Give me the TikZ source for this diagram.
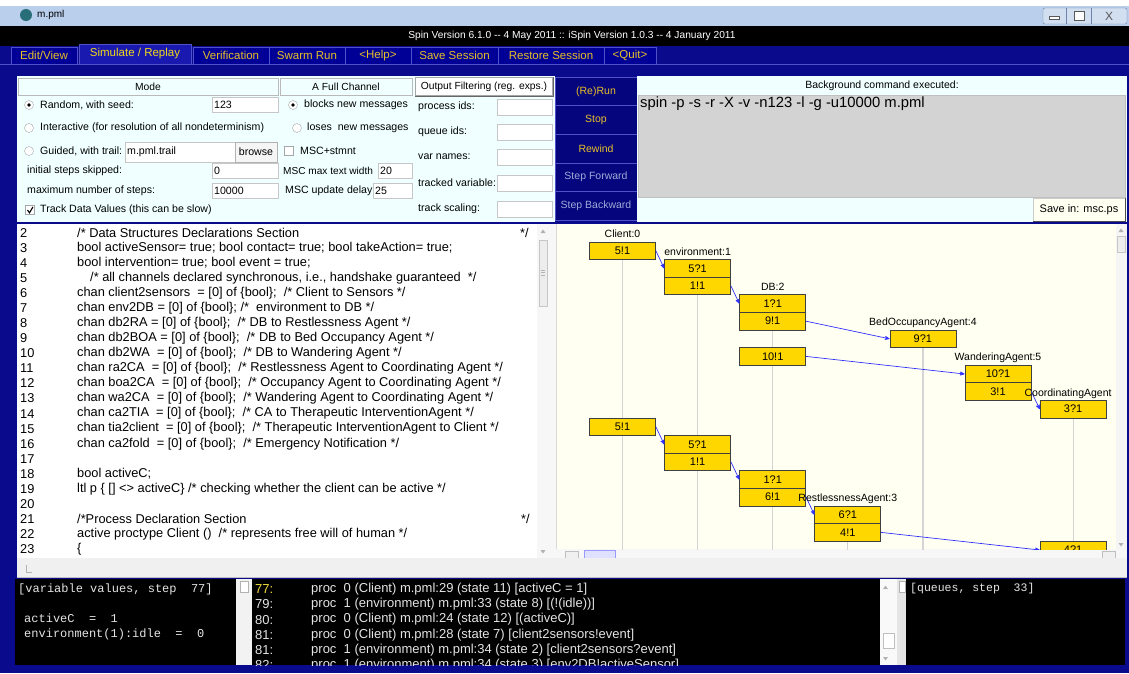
\documentclass[tikz,border=0pt]{standalone}
\usepackage{fontspec}
\setmainfont{Liberation Sans}
\setmonofont{Liberation Mono}
\usetikzlibrary{arrows,positioning}

\definecolor{winblue}{RGB}{10,10,140}
\definecolor{tabblue}{RGB}{0,0,150}
\definecolor{tabsel}{RGB}{25,25,175}
\definecolor{tabline}{RGB}{80,80,200}
\definecolor{gold}{RGB}{232,192,40}
\definecolor{paleblue}{RGB}{160,170,215}
\definecolor{ctlblue}{RGB}{5,5,125}
\definecolor{azure}{RGB}{240,255,255}
\definecolor{cmdgray}{RGB}{211,211,211}
\definecolor{ivory}{RGB}{255,255,242}
\definecolor{mscbox}{RGB}{255,215,0}
\definecolor{life}{RGB}{212,212,212}
\definecolor{arrowblue}{RGB}{50,50,255}
\definecolor{termgray}{RGB}{228,228,228}
\definecolor{stepyellow}{RGB}{240,220,60}
\definecolor{titleA}{RGB}{185,207,235}
\definecolor{titleB}{RGB}{120,158,218}
\definecolor{titleC}{RGB}{110,130,170}
\definecolor{globe}{RGB}{40,110,120}

\newcommand{\fsz}[1]{\fontsize{#1}{#1}\selectfont}

\begin{document}
\begin{tikzpicture}[x=1pt,y=-1pt,
  lbl/.style={inner sep=0pt,anchor=west,font=\fsz{10.6}},
  hdr/.style={draw=gray!55,fill=azure,inner sep=0pt,minimum height=17pt,font=\fsz{10.3}},
  field/.style={draw=gray!45,fill=white,anchor=west,inner sep=2pt,minimum height=15pt,font=\fsz{10.6}},
  radio/.style={circle,draw=gray!70,fill=white,inner sep=0pt,minimum size=9pt},
  chk/.style={draw=gray!70,fill=white,inner sep=0pt,minimum size=9pt},
  menutab/.style={draw=tabline,fill=tabblue},
  ctl/.style={draw=tabline,fill=ctlblue,minimum width=82pt,minimum height=28.6pt,inner sep=0pt,font=\fsz{10.5}},
  src/.style={inner sep=0pt,anchor=west,font=\fsz{12.8}},
  msg/.style={draw=black!75,fill=mscbox,line width=0.8pt,minimum width=66pt,minimum height=17.6pt,inner sep=0pt,font=\fsz{11}},
  proc/.style={inner sep=0pt,font=\fsz{10.5}},
  send/.style={->,>=stealth',draw=arrowblue,line width=0.7pt},
  lifeline/.style={draw=life,line width=1.2pt},
  outtxt/.style={inner sep=0pt,anchor=west,text=termgray,font=\fsz{13}},
  mono/.style={inner sep=0pt,anchor=west,text=termgray,font=\ttfamily\fsz{12}}]

\useasboundingbox (0,0) rectangle (1129,673);
\fill[white] (0,0) rectangle (1129,673);
\shade[left color=titleA,middle color=titleB,right color=titleA] (0,6) rectangle (1129,26);
\fill[black] (0,26) rectangle (1129,46);
\fill[winblue] (0,46) rectangle (1129,673);

% title bar
\node[circle,fill=globe,minimum size=12pt,inner sep=0pt] (icon) at (26,15) {};
\node[lbl,font=\fsz{10}] (title) at (37,15) {m.pml};
\draw[rounded corners=2pt,draw=titleC,fill=white,fill opacity=0.35] (1043,8) rectangle (1127,24);
\draw[titleC] (1066,8) -- (1066,24) (1091,8) -- (1091,24);
\draw[gray!70!black,fill=white] (1049,16) rectangle (1059,19);
\draw[gray!70!black,fill=white] (1074,11) rectangle (1084,20);
\node[font=\fsz{12},text=gray!70!black] (closeb) at (1109,16) {X};
\node[text=white,font=\fsz{10.2}] (version) at (572,36) {Spin Version 6.1.0 -{}- 4 May 2011 :: iSpin Version 1.0.3 -{}- 4 January 2011};

% menu
\draw[tabline] (0,64) -- (1129,64);
\foreach \a/\b/\t [count=\i] in {11/77/{Edit/View},193/269/Verification,269/345/Swarm Run,345/411/<Help>,411/498/Save Session,498/604/Restore Session,604/656/<Quit>}{
  \draw[menutab] (\a,47) rectangle (\b,64);
  \node[text=gold,font=\fsz{11.5}] (tab\i) at ({(\a+\b)/2},55.5) {\t};
}
\draw[menutab,fill=tabsel] (79,44) rectangle (191,64);
\node[text=gold!60!yellow,font=\fsz{11.5}] (tabsim) at (135,54) {Simulate / Replay};

% simulation settings
\fill[azure] (17,76) rectangle (555,222);
\node[hdr,minimum width=260pt] (mode) at (148,86.5) {Mode};
\node[hdr,minimum width=132pt] (fullch) at (346,86.5) {A Full Channel};
\node[hdr,fill=white,draw=gray!70,minimum width=137pt,minimum height=18pt] (filter) at (484,86.5) {Output Filtering (reg. exps.)};
\draw[black!60] (filter.north east) -- (filter.south east) -- (filter.south west);

\node[radio] (rnd) at (29,105) {}; \fill (rnd.center) circle (1.8pt);
\node[lbl] (rndl) at (40,105) {Random, with seed:};
\node[field,text width=62pt] (seed) at (212,105) {123};
\node[radio] (int) at (29,128) {};
\node[lbl] (intl) at (40,128) {Interactive (for resolution of all nondeterminism)};
\node[radio] (gd) at (29,151) {};
\node[lbl] (gdl) at (40,151) {Guided, with trail:};
\node[field,text width=106pt,minimum height=20pt] (trail) at (125,152) {m.pml.trail};
\node[draw=gray!60,fill=gray!8,minimum width=42pt,minimum height=20pt,inner sep=0pt,font=\fsz{10.6}] (browse) at (256,152) {browse};
\node[lbl] (skipl) at (27,171) {initial steps skipped:};
\node[field,text width=62pt] (skip) at (212,171) {0};
\node[lbl] (maxl) at (27,191) {maximum number of steps:};
\node[field,text width=62pt] (maxs) at (212,191) {10000};
\node[chk] (trk) at (30,210) {};
\draw[line width=1.1pt] (27.5,210) -- (29.5,212.8) -- (33,206.8);
\node[lbl] (trkl) at (40,210) {Track Data Values (this can be slow)};

\node[radio] (blk) at (293,105) {}; \fill (blk.center) circle (1.8pt);
\node[lbl] (blkl) at (304,105) {blocks new messages};
\node[radio] (los) at (297,128) {};
\node[lbl] (losl) at (307,128) {loses\ \ new messages};
\node[chk] (mscs) at (289,151) {};
\node[lbl] (mscsl) at (300,151) {MSC+stmnt};
\node[lbl,font=\fsz{10.1}] (mtwl) at (283,171) {MSC max text width};
\node[field,text width=30pt] (mtw) at (378,171) {20};
\node[lbl] (mudl) at (285,191) {MSC update delay};
\node[field,text width=35pt] (mud) at (373,191) {25};

\foreach \t/\y [count=\i] in {process ids:/107,queue ids:/132,var names:/157,tracked variable:/183,track scaling:/209}{
  \node[lbl] (fl\i) at (418,\y) {\t};
  \node[field,text width=51pt,minimum height=16pt] (ff\i) at (497,\y) {};
}

\foreach \t/\c [count=\i] in {{(Re)Run}/gold,Stop/gold,Rewind/gold,Step Forward/paleblue,Step Backward/paleblue}
  \node[ctl,text=\c] (btn\i) at (596,{62.7+28.6*\i}) {\t};

% background command
\fill[azure] (637,76) rectangle (1127,222);
\node[font=\fsz{10.5}] (bghdr) at (882,86) {Background command executed:};
\draw[gray!50,fill=cmdgray] (638,95) rectangle (1125,197);
\node[lbl,font=\fsz{14.8}] (cmd) at (640,104) {spin -p -s -r -X -v -n123 -l -g -u10000 m.pml};
\node[draw=gray!40,fill=ivory,minimum width=92pt,minimum height=23pt,inner sep=0pt,font=\fsz{11}] (savein) at (1079,210) {Save in: msc.ps};
\draw[black!70,line width=1pt] (savein.north east) -- (savein.south east) -- (savein.south west);

% source text
\fill[white] (17,224) rectangle (537,558);
\fill[gray!6] (537,224) rectangle (549,558);
\draw[gray!45,fill=gray!14] (539,240) rectangle (547,306);
\draw[gray!60] (541,270) -- (545,270) (541,272.5) -- (545,272.5) (541,275) -- (545,275);
\fill[gray!60] (540.5,233) -- (545.5,233) -- (543,229.5) -- cycle;
\fill[gray!60] (540.5,550) -- (545.5,550) -- (543,553.5) -- cycle;
\foreach \n in {2,...,23}
  \node[src] (ln\n) at (20,{233+15.05*(\n-2)}) {\n};
\foreach \n/\x/\t in {
  2/77/{/* Data Structures Declarations Section},
  3/77/{bool activeSensor= true; bool contact= true; bool takeAction= true;},
  4/77/{bool intervention= true; bool event = true;},
  5/90/{/* all channels declared synchronous, i.e., handshake guaranteed\ \ */},
  6/77/{chan client2sensors\ \ = [0] of \{bool\};\ \ /* Client to Sensors */},
  7/77/{chan env2DB = [0] of \{bool\}; /*\ \ environment to DB */},
  8/77/{chan db2RA = [0] of \{bool\};\ \ /* DB to Restlessness Agent */},
  9/77/{chan db2BOA = [0] of \{bool\};\ \ /* DB to Bed Occupancy Agent */},
  10/77/{chan db2WA\ \ = [0] of \{bool\};\ \ /* DB to Wandering Agent */},
  11/77/{chan ra2CA\ \ = [0] of \{bool\};\ \ /* Restlessness Agent to Coordinating Agent */},
  12/77/{chan boa2CA\ \ = [0] of \{bool\};\ \ /* Occupancy Agent to Coordinating Agent */},
  13/77/{chan wa2CA\ \ = [0] of \{bool\};\ \ /* Wandering Agent to Coordinating Agent */},
  14/77/{chan ca2TIA\ \ = [0] of \{bool\};\ \ /* CA to Therapeutic InterventionAgent */},
  15/77/{chan tia2client\ \ = [0] of \{bool\};\ \ /* Therapeutic InterventionAgent to Client */},
  16/77/{chan ca2fold\ \ = [0] of \{bool\};\ \ /* Emergency Notification */},
  18/77/{bool activeC;},
  19/77/{ltl p \{ [] <> activeC\} /* checking whether the client can be active */},
  21/77/{/*Process Declaration Section},
  22/77/{active proctype Client ()\ \ /* represents free will of human */},
  23/77/{\{}}
  \node[src] (cl\n) at (\x,{233+15.05*(\n-2)}) {\t};
\node[src] (ce2) at (520,233) {*/};
\node[src] (ce21) at (521,{233+15.05*19}) {*/};

% message sequence chart
\fill[gray!6] (549,224) rectangle (1127,560);
\fill[ivory] (556,224) rectangle (1116,549);
\draw[gray!30] (556,224) -- (556,549);
\fill[gray!8] (1116,224) rectangle (1127,549);
\draw[gray!45,fill=gray!14] (1117,236) rectangle (1125,252);
\fill[gray!60] (1118.5,232) -- (1123.5,232) -- (1121,228.5) -- cycle;
\fill[gray!60] (1118.5,543) -- (1123.5,543) -- (1121,546.5) -- cycle;
\draw[gray!50,fill=gray!12] (565,551) rectangle (578,559);
\draw[gray!50,fill=gray!12] (1102,551) rectangle (1115,559);
\draw[blue!40,fill=blue!12] (584,550) rectangle (615,559);
\begin{scope}
\clip (556,224) rectangle (1116,549);
\foreach \c/\r in {0/0,1/1,2/3,3/15,4/5,6/9}
  \draw[lifeline] ({622.5+75.1*\c},{259.6+17.6*\r}) -- ++(0,320);
\foreach \n/\c/\r/\t in {a1/0/0/5!1,b1/1/1/5?1,b2/1/2/1!1,d1/2/3/1?1,d2/2/4/9!1,e1/4/5/9?1,
    d3/2/6/10!1,f1/5/7/10?1,f2/5/8/3!1,g1/6/9/3?1,a2/0/10/5!1,b3/1/11/5?1,b4/1/12/1!1,
    d4/2/13/1?1,d5/2/14/6!1,h1/3/15/6?1,h2/3/16/4!1,g2/6/17/4?1}
  \node[msg] (\n) at ({622.5+75.1*\c},{250.8+17.6*\r}) {\t};
\foreach \s/\r in {a1/b1,b2/d1,d2/e1,d3/f1,f2/g1,a2/b3,b4/d4,d5/h1,h2/g2}
  \draw[send] (\s.east) -- (\r.west);
\node[proc,above=4pt of a1.north,anchor=base] (client) {Client:0};
\node[proc,above=4pt of b1.north,anchor=base] (env) {environment:1};
\node[proc,above=4pt of d1.north,anchor=base] (db) {DB:2};
\node[proc,above=4pt of e1.north,anchor=base] (boa) {BedOccupancyAgent:4};
\node[proc,above=4pt of f1.north,anchor=base] (wa) {WanderingAgent:5};
\node[proc,above=4pt of g1.north,anchor=base,xshift=-5pt] (ca) {CoordinatingAgent};
\node[proc,above=4pt of h1.north,anchor=base] (ra) {RestlessnessAgent:3};
\end{scope}

% output panes
\fill[gray!12] (17,558) rectangle (1127,577);
\draw[gray!50] (17,577.5) -- (1127,577.5);
\draw[gray!60] (26,565) -- (26,572) -- (32,572);
\fill[black] (15,579) rectangle (236,665);
\node[mono] (vv) at (18,589) {[variable values, step\ \ 77]};
\node[mono] (v1) at (24,618) {activeC\ \ =\ \ 1};
\node[mono] (v2) at (24,634) {environment(1):idle\ \ =\ \ 0};
\fill[gray!10] (236,579) rectangle (252,665);
\draw[gray!60,fill=white] (240,581) rectangle (248,592);
\fill[black] (252,579) rectangle (880,665);
\begin{scope}
\clip (252,579) rectangle (880,665);
\foreach \s/\c/\t [count=\k from 0] in {
  77:/stepyellow/{proc\ \ 0 (Client) m.pml:29 (state 11) [activeC = 1]},
  79:/termgray/{proc\ \ 1 (environment) m.pml:33 (state 8) [(!(idle))]},
  80:/termgray/{proc\ \ 0 (Client) m.pml:24 (state 12) [(activeC)]},
  81:/termgray/{proc\ \ 0 (Client) m.pml:28 (state 7) [client2sensors!event]},
  81:/termgray/{proc\ \ 1 (environment) m.pml:34 (state 2) [client2sensors?event]},
  82:/termgray/{proc\ \ 1 (environment) m.pml:34 (state 3) [env2DB!activeSensor]}}{
  \node[outtxt,text=\c] (st\k) at (255,{589+15.3*\k}) {\s};
  \node[outtxt] (ot\k) at (311,{589+15.3*\k}) {\t};
}
\end{scope}
\fill[gray!5] (880,579) rectangle (897,665);
\fill[gray!60] (883,589) -- (888,589) -- (885.5,585.5) -- cycle;
\fill[gray!60] (883,657) -- (888,657) -- (885.5,660.5) -- cycle;
\draw[gray!50,fill=white] (883,633) rectangle (894,648);
\fill[gray!20] (897,579) rectangle (906,665);
\draw[gray!60,fill=white] (899,581) rectangle (905,592);
\fill[black] (906,579) rectangle (1125,665);
\node[mono,font=\ttfamily\fsz{11.5}] (qs) at (910,589) {[queues, step\ \ 33]};
\end{tikzpicture}
\end{document}
